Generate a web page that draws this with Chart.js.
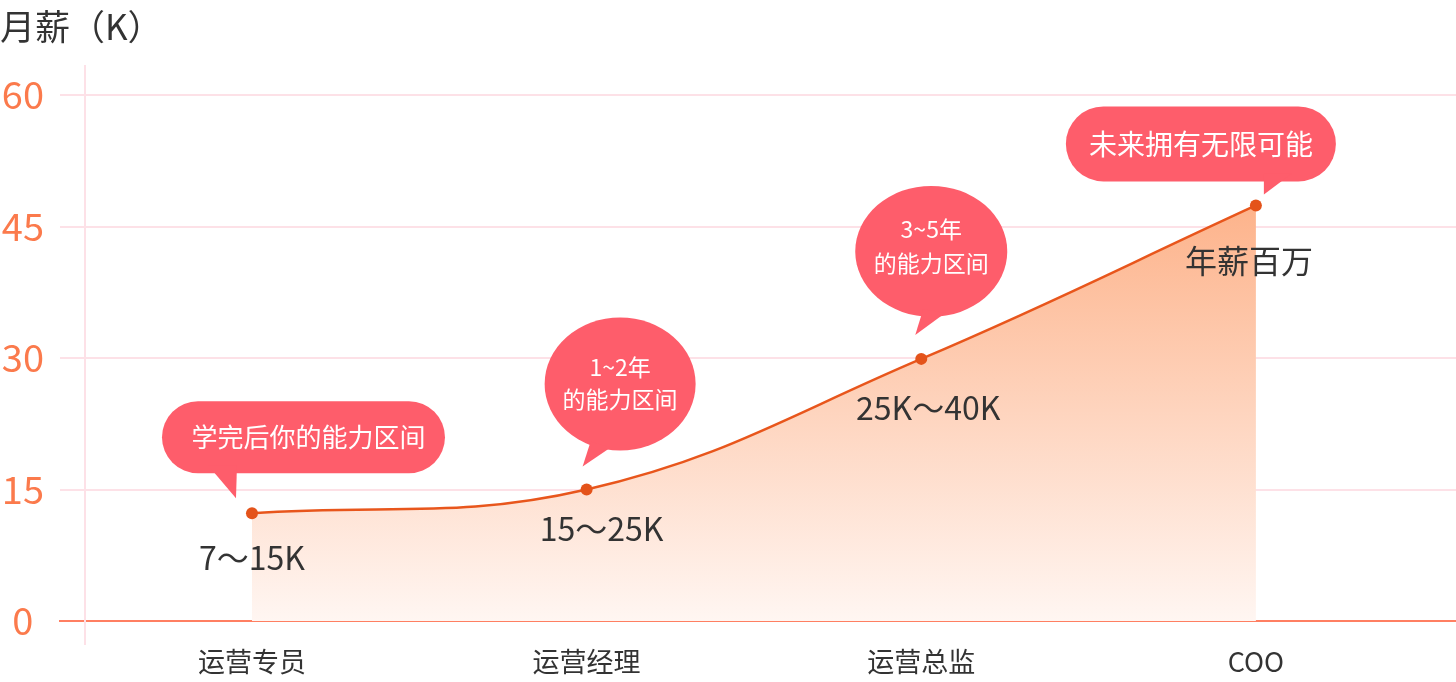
<!DOCTYPE html>
<html>
<head>
<meta charset="utf-8">
<script src="https://cdn.jsdelivr.net/npm/chart.js@4"></script>
<style>
  html, body { margin: 0; padding: 0; background: #fff; overflow: hidden; }
  #wrap { width: 1456px; height: 682px; position: relative; }
  canvas { display: block; }
</style>
</head>
<body>
<div id="wrap"><canvas id="chart"></canvas></div>
<script>
// data
var categories = ['运营专员', '运营经理', '运营总监', 'COO'];
var salary = [12.3, 15, 29.9, 47.4];
var yTicks = [0, 15, 30, 45, 60];
var rangeLabels = ['7～15K', '15～25K', '25K～40K', '年薪百万'];
var bubbleTexts = [['学完后你的能力区间'], ['1~2年', '的能力区间'], ['3~5年', '的能力区间'], ['未来拥有无限可能']];

var FONT = '"Noto Sans CJK SC", "Noto Sans", sans-serif';
Chart.defaults.font.family = FONT;

// bubble look, relative to each point
var bubbleStyle = [
  { shape: 'pill', dx: 51.5, dy: -76, w: 283, h: 72, tail: [[-44, -48], [-15, -48], [-16, -15]], font: 26, tx: 5, lines: [0] },
  { shape: 'ellipse', dx: 33.5, dy: -105.5, w: 151, h: 133, tail: [[4, -48], [-4, -23], [24, -42]], font: 23, tx: 0, lines: [-17, 15] },
  { shape: 'ellipse', dx: 10, dy: -107.5, w: 152, h: 131, tail: [[2, -50], [-6, -24], [24, -46]], font: 23, tx: 0, lines: [-22, 12] },
  { shape: 'pill', dx: -55, dy: -61.5, w: 270, h: 75, tail: [[8, -32], [8, -11], [36, -32]], font: 28, tx: 0, lines: [0] }
];
var labelOffset = [[0, 45], [15, 39], [7, 49], [-7, 55]];

var decor = {
  id: 'decor',
  beforeDatasetsDraw: function(chart) {
    var ctx = chart.ctx;
    ctx.save();
    ctx.strokeStyle = '#fde1e7';
    ctx.lineWidth = 2;
    ctx.beginPath();
    ctx.moveTo(85, 65);
    ctx.lineTo(85, 645);
    ctx.stroke();
    ctx.restore();
  },
  afterDatasetsDraw: function(chart) {
    var ctx = chart.ctx;
    var meta = chart.getDatasetMeta(0);
    ctx.save();
    meta.data.forEach(function(pt, i) {
      var px = pt.x, py = pt.y;
      var s = bubbleStyle[i];
      var cx = px + s.dx, cy = py + s.dy;
      ctx.fillStyle = '#fe5d6b';
      ctx.beginPath();
      if (s.shape === 'pill') {
        ctx.roundRect(cx - s.w / 2, cy - s.h / 2, s.w, s.h, s.h / 2);
      } else {
        ctx.ellipse(cx, cy, s.w / 2, s.h / 2, 0, 0, Math.PI * 2);
      }
      ctx.fill();
      ctx.beginPath();
      ctx.moveTo(px + s.tail[0][0], py + s.tail[0][1]);
      ctx.lineTo(px + s.tail[1][0], py + s.tail[1][1]);
      ctx.lineTo(px + s.tail[2][0], py + s.tail[2][1]);
      ctx.closePath();
      ctx.fill();

      ctx.fillStyle = '#ffffff';
      ctx.font = s.font + 'px ' + FONT;
      ctx.textAlign = 'center';
      ctx.textBaseline = 'middle';
      bubbleTexts[i].forEach(function(t, k) {
        ctx.fillText(t, cx + s.tx, cy + s.lines[k]);
      });

      ctx.fillStyle = '#333333';
      ctx.font = '32px ' + FONT;
      ctx.fillText(rangeLabels[i], px + labelOffset[i][0], py + labelOffset[i][1]);
    });
    ctx.restore();
  }
};

var ctx = document.getElementById('chart').getContext('2d');
window.theChart = new Chart(ctx, {
  type: 'line',
  data: {
    datasets: [{
      data: salary.map(function(v, i) { return { x: i, y: v }; }),
      borderColor: '#e8561c',
      borderWidth: 2.5,
      tension: 0.4,
      pointRadius: 6,
      pointBackgroundColor: '#e4531a',
      pointBorderWidth: 0,
      fill: 'origin',
      backgroundColor: function(c) {
        var area = c.chart.chartArea;
        if (!area) return 'rgba(253,181,141,0.6)';
        var top = c.chart.scales.y.getPixelForValue(Math.max.apply(null, salary));
        var g = c.chart.ctx.createLinearGradient(0, top, 0, area.bottom);
        g.addColorStop(0, '#fdb38b');
        g.addColorStop(1, '#fff6f2');
        return g;
      }
    }]
  },
  options: {
    responsive: true,
    maintainAspectRatio: false,
    animation: false,
    layout: { autoPadding: false, padding: { left: 0, right: 0, top: 0, bottom: 0 } },
    plugins: {
      legend: { display: false },
      tooltip: { enabled: false },
      title: {
        display: true,
        text: '月薪（K）',
        align: 'start',
        color: '#333333',
        font: { size: 35, weight: 'normal' },
        padding: { top: 6, bottom: 47 }
      }
    },
    scales: {
      x: {
        type: 'linear',
        min: -0.5737,
        max: 3.598,
        afterBuildTicks: function(scale) {
          scale.ticks = categories.map(function(c, i) { return { value: i }; });
        },
        afterFit: function(scale) { scale.height = 61; },
        ticks: {
          color: '#333333',
          font: { size: 27 },
          padding: 25,
          maxRotation: 0,
          callback: function(v) { return categories[v]; }
        },
        grid: { display: false, drawTicks: false },
        border: { display: true, color: '#ff7f62', width: 2 }
      },
      y: {
        min: 0,
        max: 60,
        afterBuildTicks: function(scale) {
          scale.ticks = yTicks.map(function(v) { return { value: v }; });
        },
        afterFit: function(scale) { scale.width = 60; },
        ticks: {
          color: '#fb7a4c',
          font: { size: 38 },
          padding: 16,
          crossAlign: 'center'
        },
        grid: {
          drawTicks: false,
          lineWidth: 2,
          color: function(c) { return c.tick && c.tick.value === 0 ? 'rgba(0,0,0,0)' : '#fde1e7'; }
        },
        border: { display: false }
      }
    }
  },
  plugins: [decor]
});
</script>
</body>
</html>
